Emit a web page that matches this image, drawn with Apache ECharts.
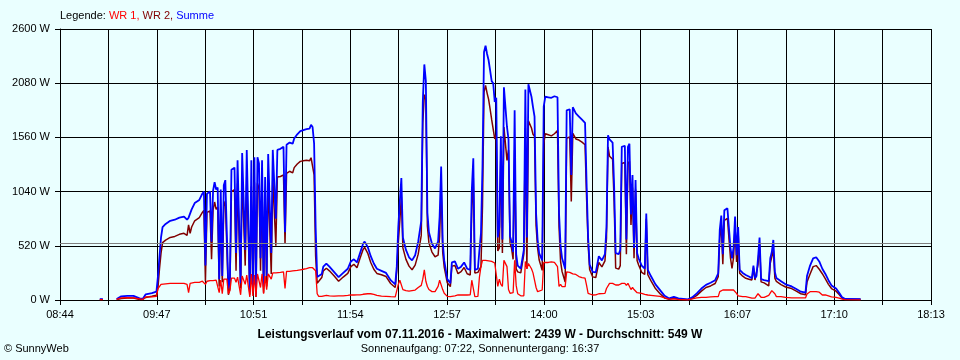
<!DOCTYPE html>
<html><head><meta charset="utf-8">
<script src="https://cdn.jsdelivr.net/npm/echarts@6/dist/echarts.min.js"></script>
<style>html,body{margin:0;padding:0;background:#eaffff;}#c{width:960px;height:360px;}</style>
</head><body><div id="c"></div>
<script>
// x tick labels (one every 2 ticks, 18 intervals from 08:44 to 18:13)
const tickLabels = ['08:44','','09:47','','10:51','','11:54','','12:57','','14:00','','15:03','','16:07','','17:10','','18:13'];
const xSpan = 569;            // minutes from 08:44 to 18:13
const yMax = 2600, yStep = 520;
const average = 549;          // Durchschnitt
// times in minutes after 08:44
const times = [
26,28,30,37,40,44,48,52,54,56,60,63,64,65,66,67,69,72,75,78,81,83,84,85,86,88,91,93,
94,95,96,97,98,99,100,101,102,103,104,105,106,107,108,109,110,111,112,113,114,115,116,117,118,119,120,121,122,123,
124,125,126,127,128,129,130,131,132,133,134,135,136,137,138,139,140,141,142,
144,146,147,148,150,152,153,155,157,159,161,163,164,165,166,167,168,169,171,172,
174,176,179,182,185,188,190,192,194,196,198,199,201,203,205,207,210,213,216,219,
220,221,222,223,224,226,228,230,232,234,236,237,238,239,240,241,243,245,247,248,
249,250,251,253,255,256,258,260,262,264,266,268,269,270,271,273,274,275,276,277,
278,279,280,281,282,283,284,285,286,287,288,289,290,291,292,293,294,295,296,297,
298,299,301,303,304,305,306,307,308,309,310,311,312,313,315,316,317,319,321,323,
325,326,327,328,330,331,333,334,335,337,339,341,343,344,345,346,348,350,352,354,
356,357,358,359,361,362,363,365,366,367,369,370,371,372,373,374,375,376,377,378,
380,382,383,384,386,389,392,395,398,401,404,410,413,416,419,422,425,428,430,431,
432,433,434,436,437,438,439,440,441,442,443,444,446,448,450,452,453,454,455,456,
457,458,460,463,464,465,466,467,468,471,474,478,481,484,487,488,490,492,494,496,
498,500,502,504,507,509,511,513,523
];
const summe = [
8,8,null,10,35,40,40,15,10,55,65,80,230,420,600,700,730,760,770,790,800,770,790,800,870,930,960,1020,
1040,330,1020,1030,1040,560,1050,1130,1060,1080,200,1060,230,1100,1150,1140,110,200,1250,1260,1270,450,1340,1350,160,1410,1420,480,1440,1455,
80,1340,120,1370,60,1370,1310,400,1340,130,1180,230,1400,1410,450,1440,1430,780,1440,
1450,1470,650,1490,1510,1500,1550,1590,1620,1630,1640,1645,1680,1660,1500,700,220,210,250,320,
350,320,270,220,260,300,370,390,360,450,540,560,510,420,350,300,280,260,190,150,
320,700,950,1170,600,480,410,380,430,560,760,1900,2260,2100,840,650,540,495,560,800,
1280,560,380,200,160,360,370,300,320,360,300,290,1050,1360,290,300,480,640,1280,2380,
2439,2360,2300,2200,2100,2080,1900,1940,600,700,1570,580,2040,2050,1660,1540,610,560,460,1820,
440,330,300,480,2020,600,2070,2080,1950,1850,1760,835,580,450,380,1855,1950,1945,1940,1955,
1945,835,520,400,300,1820,1830,1200,1850,1790,1760,1730,1700,1120,600,340,270,265,420,380,
440,700,1580,1540,1510,1090,450,440,480,1470,1480,580,1470,1500,820,1200,500,1150,450,400,
330,300,830,290,230,150,95,40,15,30,15,5,25,64,110,145,165,190,256,672,
810,440,860,880,870,500,400,500,800,430,700,290,260,240,225,210,330,210,230,400,
600,200,190,180,400,460,576,270,210,180,150,130,105,80,70,230,330,400,410,370,
300,250,190,140,110,70,25,10,8
];
const wr2 = [
4,4,null,5,15,18,20,5,5,25,35,45,120,300,450,550,575,600,610,630,640,620,720,640,700,760,790,840,
860,180,840,845,855,390,865,940,870,890,130,870,170,900,950,940,50,110,1040,1050,1060,280,1120,1130,110,1180,1190,330,1200,1215,
50,1090,80,1130,30,1120,1070,280,1090,70,950,130,1150,1155,250,1180,1170,520,1180,
1185,1200,540,1215,1235,1220,1270,1305,1330,1335,1340,1335,1365,1350,1200,420,160,175,215,280,
305,280,232,180,220,255,320,342,310,400,485,505,450,360,295,255,242,225,158,120,
280,550,760,990,500,390,325,290,335,440,620,1700,1970,1920,710,550,460,415,430,610,
1100,460,316,165,128,325,330,252,272,312,252,240,860,1170,258,265,260,320,900,1995,
2059,1985,1925,1830,1730,1720,1545,1585,470,500,1420,450,1660,1665,1340,1440,546,496,390,1440,
300,270,260,440,1650,300,1720,1730,1650,1590,1570,715,500,386,284,1495,1595,1585,1575,1595,
1625,705,370,272,172,1550,1565,945,1600,1545,1535,1515,1490,980,536,292,222,215,360,318,
376,590,1468,1380,1350,940,306,296,330,1310,1320,440,1310,1330,720,1080,400,1060,380,336,
266,245,780,242,185,110,60,20,7,20,10,3,15,44,85,120,135,158,224,592,
720,344,764,784,774,404,304,404,704,366,660,258,228,208,200,192,312,192,205,340,
550,174,164,135,352,370,480,210,178,148,125,110,85,60,50,172,250,320,330,295,
252,202,150,110,85,52,17,7,6
];
const wr1 = [
4,4,null,5,20,22,20,10,5,30,30,35,110,120,150,150,155,160,160,160,160,150,70,160,170,170,170,180,
180,150,180,185,185,170,185,190,190,190,70,190,60,200,200,200,60,90,210,210,210,170,220,220,50,230,230,150,240,240,
30,250,40,240,30,250,240,120,250,60,230,100,250,255,200,260,260,260,260,
265,270,110,275,275,280,280,285,290,295,300,310,315,310,300,280,60,35,35,40,
45,40,38,40,40,45,50,48,50,50,55,55,60,60,55,45,38,35,32,30,
40,150,190,180,100,90,85,90,95,120,140,200,290,180,130,100,80,80,130,190,
180,100,64,35,32,35,40,48,48,48,48,50,190,190,32,35,220,320,380,385,
380,375,375,370,370,360,355,355,130,200,150,130,380,385,320,100,64,64,70,380,
140,60,40,40,370,300,350,350,300,260,190,120,80,64,96,360,355,360,365,360,
320,130,150,128,128,270,265,255,250,245,225,215,210,140,64,48,48,50,60,62,
64,110,112,160,160,150,144,144,150,160,160,140,160,170,100,120,100,90,70,64,
64,55,50,48,45,40,35,20,8,10,5,2,10,20,25,25,30,32,32,80,
90,96,96,96,96,96,96,96,96,64,40,32,32,32,25,18,18,18,25,60,
50,26,26,45,48,90,96,60,32,32,25,20,20,20,20,58,80,80,80,75,
48,48,40,30,25,18,8,3,2
];

const xStep = xSpan / 18;
const pair = arr => arr.map((v, i) => [times[i], v]);
const FONT = 'Liberation Sans';
const chart = echarts.init(document.getElementById('c'), null, {renderer: 'canvas'});
chart.setOption({
  animation: false,
  backgroundColor: '#eaffff',
  textStyle: {fontFamily: FONT},
  title: [
    {left: 60, top: 10, padding: 0,
     text: '{k|Legende: }{a|WR 1, }{b|WR 2, }{c|Summe}',
     textStyle: {fontSize: 11, fontWeight: 'normal', fontFamily: FONT, rich: {
       k: {color: '#000', fontSize: 11, fontFamily: FONT},
       a: {color: '#ff0000', fontSize: 11, fontFamily: FONT},
       b: {color: '#800000', fontSize: 11, fontFamily: FONT},
       c: {color: '#0000ff', fontSize: 11, fontFamily: FONT}}}},
    {left: 'center', top: 329, padding: 0,
     text: 'Leistungsverlauf vom 07.11.2016 - Maximalwert: 2439 W - Durchschnitt: 549 W',
     textStyle: {fontSize: 12, fontWeight: 'bold', color: '#000', fontFamily: FONT}},
    {left: 'center', top: 343, padding: 0,
     text: 'Sonnenaufgang: 07:22, Sonnenuntergang: 16:37',
     textStyle: {fontSize: 11, fontWeight: 'normal', color: '#000', fontFamily: FONT}},
    {left: 4, top: 343, padding: 0,
     text: '© SunnyWeb',
     textStyle: {fontSize: 11, fontWeight: 'normal', color: '#000', fontFamily: FONT}}
  ],
  grid: {left: 60, top: 29, width: 871, height: 271, containLabel: false},
  xAxis: {
    type: 'value', min: 0, max: xSpan, interval: xStep,
    axisLine: {show: true, lineStyle: {color: '#000', width: 1}},
    axisTick: {show: true, length: 5, lineStyle: {color: '#000'}},
    splitLine: {show: true, lineStyle: {color: '#000', width: 1}},
    axisLabel: {color: '#000', fontSize: 11, fontFamily: FONT, margin: 9,
      formatter: v => tickLabels[Math.round(v / xStep)] || ''}
  },
  yAxis: {
    type: 'value', min: 0, max: yMax, interval: yStep,
    axisLine: {show: true, lineStyle: {color: '#000', width: 1}},
    axisTick: {show: true, length: 5, lineStyle: {color: '#000'}},
    splitLine: {show: true, lineStyle: {color: '#000', width: 1}},
    axisLabel: {color: '#000', fontSize: 11, fontFamily: FONT, margin: 10,
      formatter: v => v + ' W'}
  },
  series: [
    {name: 'WR 2', type: 'line', data: pair(wr2), showSymbol: false, symbol: 'none',
     lineStyle: {color: '#800000', width: 1.5}, itemStyle: {color: '#800000'}},
    {name: 'Summe', type: 'line', data: pair(summe), showSymbol: false, symbol: 'none',
     lineStyle: {color: '#0000ff', width: 1.8}, itemStyle: {color: '#0000ff'}, connectNulls: false,
     markLine: {silent: true, symbol: 'none', label: {show: false},
       lineStyle: {color: '#808080', type: 'solid', width: 1},
       data: [{yAxis: average}]}},
    {name: 'WR 1', type: 'line', data: pair(wr1), showSymbol: false, symbol: 'none',
     lineStyle: {color: '#ff0000', width: 1.3}, itemStyle: {color: '#ff0000'}}
  ]
});
</script>
</body></html>
